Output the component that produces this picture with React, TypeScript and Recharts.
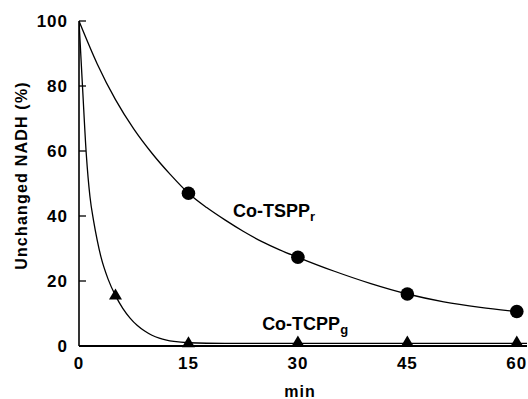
import { ComposedChart, Line, Scatter, XAxis, YAxis, ReferenceDot, Label } from "recharts";

const FONT = '"Liberation Sans", Arial, Helvetica, sans-serif';

// measured points
const tsppMin = [15, 30, 45, 60];
const tsppVal = [47, 27.3, 16, 10.6];
const tcppMin = [5, 15, 30, 45, 60];
const tcppVal = [15.7, 1, 1.2, 1.2, 1.2];

// fitted curves
const tsppCurveMin = [0, 2.5, 5, 7.5, 10, 12.5, 15, 17.5, 20, 22.5, 25, 27.5, 30, 35, 40, 45, 50, 55, 60];
const tsppCurveVal = [100, 86.8, 75.8, 66.8, 59.3, 52.8, 47, 42.6, 38.8, 35.3, 32.2, 29.6, 27.3, 23, 19.2, 16, 13.6, 11.9, 10.6];
const tcppCurveMin = [0, 0.5, 1, 1.5, 2, 2.5, 3, 4, 5, 6, 7, 8, 9, 10, 11, 12, 13, 15, 20, 61.4];
const tcppCurveVal = [100, 79, 59, 46, 38.5, 32.5, 27.5, 20.5, 15.5, 11.6, 8.6, 6.3, 4.6, 3.3, 2.4, 1.8, 1.4, 1, 0.8, 0.8];

const xTicks = [0, 15, 30, 45, 60];
const yTicks = [0, 20, 40, 60, 80, 100];

const zip = (ts: number[], vs: number[]) => ts.map((t, i) => ({ t, v: vs[i] }));

const tsppPts = zip(tsppMin, tsppVal);
const tcppPts = zip(tcppMin, tcppVal);
const tsppCurve = zip(tsppCurveMin, tsppCurveVal);
const tcppCurve = zip(tcppCurveMin, tcppCurveVal);

const tickStyle = { fill: "#000", fontSize: 17, fontWeight: "bold", fontFamily: FONT, letterSpacing: 1 };

function Triangle(props: any) {
  const { cx, cy } = props;
  return <path d={`M${cx},${cy - 6.5} L${cx + 6.5},${cy + 4.5} L${cx - 6.5},${cy + 4.5} Z`} fill="#000" />;
}

function Dot(props: any) {
  return <circle cx={props.cx} cy={props.cy} r={6.8} fill="#000" />;
}

function seriesLabel(main: string, sub: string) {
  return (props: any) => (
    <text x={props.cx} y={props.cy} fill="#000" fontSize={18} fontWeight="bold" fontFamily={FONT}>
      {main}
      <tspan dy={4} fontSize={13}>{sub}</tspan>
    </text>
  );
}

export default function App() {
  return (
    <div style={{ position: "absolute", left: 0, top: 0, background: "#fff" }}>
      <ComposedChart width={528} height={399} margin={{ top: 21, right: 1, bottom: 0, left: 0 }}>
        <XAxis
          type="number"
          dataKey="t"
          domain={[0, 61.4]}
          allowDataOverflow
          ticks={xTicks}
          height={53}
          tickSize={0}
          tickMargin={11}
          tick={tickStyle}
          axisLine={{ stroke: "#000", strokeWidth: 1.8 }}
        >
          <Label
            content={(p: any) => {
              const vb = p.viewBox || { x: 79, y: 346, width: 448, height: 53 };
              return (
                <text x={vb.x + vb.width / 2 - 3} y={397} textAnchor="middle" fill="#000" fontSize={16}
                  fontWeight="bold" fontFamily={FONT} letterSpacing={1}>
                  min
                </text>
              );
            }}
          />
        </XAxis>
        <YAxis
          type="number"
          domain={[0, 100]}
          ticks={yTicks}
          width={79}
          tickSize={-7}
          tickMargin={18}
          tick={tickStyle}
          tickLine={{ stroke: "#000", strokeWidth: 1.3 }}
          axisLine={{ stroke: "#000", strokeWidth: 1.6 }}
        >
          <Label
            content={(p: any) => {
              const vb = p.viewBox || { x: 0, y: 21, width: 79, height: 325 };
              const cx = 21;
              const cy = vb.y + vb.height / 2 - 8;
              return (
                <text x={cx} y={cy} transform={`rotate(-90 ${cx} ${cy})`} textAnchor="middle"
                  dominantBaseline="central" fill="#000" fontSize={16} fontWeight="bold"
                  fontFamily={FONT} letterSpacing={1.2}>
                  Unchanged NADH (%)
                </text>
              );
            }}
          />
        </YAxis>
        <Line data={tsppCurve} dataKey="v" type="monotone" stroke="#000" strokeWidth={1.3} dot={false} isAnimationActive={false} />
        <Line data={tcppCurve} dataKey="v" type="monotone" stroke="#000" strokeWidth={1.3} dot={false} isAnimationActive={false} />
        <Scatter data={tsppPts} dataKey="v" shape={<Dot />} isAnimationActive={false} />
        <Scatter data={tcppPts} dataKey="v" shape={<Triangle />} isAnimationActive={false} />
        <ReferenceDot x={21.1} y={39.7} r={0} shape={seriesLabel("Co-TSPP", "r")} />
        <ReferenceDot x={25.1} y={4.9} r={0} shape={seriesLabel("Co-TCPP", "g")} />
      </ComposedChart>
    </div>
  );
}
